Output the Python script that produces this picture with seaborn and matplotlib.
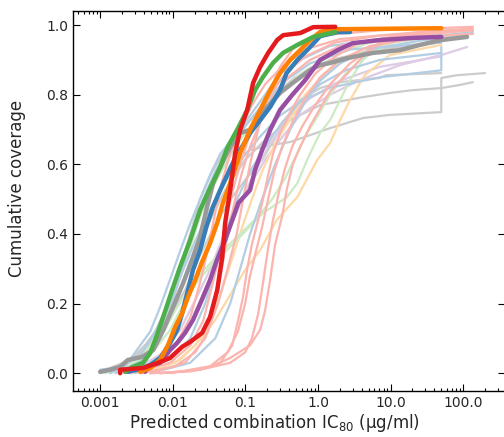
import matplotlib
matplotlib.use('Agg')
import matplotlib.pyplot as plt
import seaborn as sns
import pandas as pd

# bold curves (predicted combination IC80, cumulative coverage)
red_x = [0.00188, 0.00188, 0.0039, 0.0063, 0.0092, 0.0135, 0.0174, 0.0254, 0.0327, 0.041, 0.048,
         0.0527, 0.0618, 0.0724, 0.0848, 0.106, 0.128, 0.16, 0.206, 0.274, 0.332, 0.569, 0.71, 0.86, 1.73]
red_y = [0.0, 0.01, 0.015, 0.03, 0.044, 0.076, 0.09, 0.116, 0.162, 0.239, 0.334,
         0.432, 0.526, 0.633, 0.699, 0.756, 0.834, 0.88, 0.92, 0.957, 0.971, 0.977, 0.986, 0.994, 0.995]

green_x = [0.00221, 0.0028, 0.0039, 0.00489, 0.00573, 0.0074, 0.0098, 0.0126, 0.0174, 0.0238, 0.0327,
           0.045, 0.057, 0.077, 0.106, 0.136, 0.175, 0.24, 0.33, 0.52, 0.86, 1.73]
green_y = [0.004, 0.018, 0.03, 0.058, 0.096, 0.162, 0.239, 0.305, 0.383, 0.469, 0.532,
           0.592, 0.65, 0.699, 0.756, 0.813, 0.851, 0.891, 0.92, 0.943, 0.966, 0.98]

blue_x = [0.0024, 0.00356, 0.00489, 0.0067, 0.0086, 0.0115, 0.0135, 0.0162, 0.019, 0.0238, 0.029,
          0.0358, 0.045, 0.058, 0.075, 0.093, 0.116, 0.16, 0.22, 0.30, 0.37, 0.52, 0.71, 1.07, 1.87, 2.77]
blue_y = [0.004, 0.012, 0.024, 0.044, 0.076, 0.124, 0.173, 0.239, 0.297, 0.354, 0.42,
          0.478, 0.526, 0.575, 0.625, 0.655, 0.69, 0.727, 0.765, 0.813, 0.862, 0.9, 0.928, 0.968, 0.98, 0.98]

orange_x = [0.00356, 0.00489, 0.0067, 0.0086, 0.0108, 0.0135, 0.0162, 0.0204, 0.025, 0.0327, 0.041,
            0.049, 0.057, 0.077, 0.0848, 0.116, 0.16, 0.22, 0.30, 0.414, 0.569, 0.78, 1.07, 1.6, 50.0]
orange_y = [0.004, 0.015, 0.038, 0.081, 0.133, 0.173, 0.219, 0.268, 0.317, 0.374, 0.432,
            0.489, 0.526, 0.604, 0.633, 0.699, 0.756, 0.813, 0.862, 0.9, 0.928, 0.957, 0.98, 0.988, 0.991]

purple_x = [0.00417, 0.0046, 0.0067, 0.0092, 0.0115, 0.0148, 0.019, 0.025, 0.0327, 0.0405, 0.0527,
            0.066, 0.08, 0.116, 0.136, 0.17, 0.22, 0.30, 0.44, 0.667, 1.07, 1.87, 3.0, 7.1, 20.0, 50.0]
purple_y = [0.004, 0.018, 0.03, 0.067, 0.087, 0.116, 0.153, 0.21, 0.268, 0.325, 0.383,
            0.44, 0.489, 0.526, 0.584, 0.641, 0.699, 0.756, 0.799, 0.842, 0.9, 0.928, 0.948, 0.957, 0.963, 0.966]

gray_x = [0.001, 0.00137, 0.00188, 0.0024, 0.0038, 0.0054, 0.0074, 0.0101, 0.0139, 0.019, 0.0238,
          0.029, 0.036, 0.045, 0.0618, 0.0848, 0.116, 0.148, 0.20, 0.30, 0.45, 0.78, 1.07, 1.47, 2.52,
          5.7, 13.5, 25.4, 50.0, 113.0]
gray_y = [0.004, 0.01, 0.018, 0.038, 0.047, 0.067, 0.124, 0.19, 0.259, 0.334, 0.392,
          0.469, 0.546, 0.592, 0.65, 0.69, 0.699, 0.727, 0.765, 0.805, 0.834, 0.871, 0.885, 0.891, 0.905,
          0.92, 0.928, 0.943, 0.957, 0.966]

# faint curves
pink1_x = [0.0049, 0.0174, 0.0327, 0.0618, 0.116, 0.16, 0.187, 0.22, 0.257, 0.32, 0.374, 0.45, 0.569,
           0.78, 1.07, 1.47, 2.52, 4.17, 7.1, 12.3, 25.4, 136.0]
pink1_y = [0.0, 0.005, 0.018, 0.044, 0.08, 0.125, 0.18, 0.27, 0.37, 0.45, 0.53, 0.6, 0.65,
           0.71, 0.76, 0.81, 0.86, 0.91, 0.95, 0.97, 0.98, 0.99]
pink2_x = [0.0067, 0.0238, 0.045, 0.066, 0.079, 0.093, 0.106, 0.123, 0.15, 0.175, 0.206, 0.24, 0.30,
           0.414, 0.569, 0.915, 1.73, 3.8, 13.5, 65.0]
pink2_y = [0.0, 0.01, 0.03, 0.08, 0.15, 0.22, 0.3, 0.37, 0.44, 0.5, 0.57, 0.63, 0.69,
           0.75, 0.8, 0.86, 0.91, 0.95, 0.97, 0.98]
pink3_x = [0.0092, 0.0327, 0.057, 0.079, 0.0993, 0.116, 0.14, 0.17, 0.206, 0.25, 0.32, 0.44, 0.667,
           1.07, 2.02, 5.2, 25.4, 136.0]
pink3_y = [0.0, 0.02, 0.06, 0.12, 0.2, 0.28, 0.35, 0.42, 0.5, 0.58, 0.65, 0.72, 0.79,
           0.85, 0.9, 0.94, 0.965, 0.975]
pink4_x = [0.00356, 0.0108, 0.0204, 0.0307, 0.0384, 0.0475, 0.057, 0.0724, 0.0907, 0.116, 0.16, 0.234,
           0.39, 0.78, 2.02, 13.5, 50.0]
pink4_y = [0.0, 0.02, 0.06, 0.12, 0.2, 0.3, 0.4, 0.5, 0.58, 0.65, 0.72, 0.79,
           0.85, 0.9, 0.94, 0.97, 0.98]
pink5_x = [0.00259, 0.0092, 0.0174, 0.0262, 0.0348, 0.045, 0.0555, 0.068, 0.0848, 0.109, 0.148, 0.22,
           0.353, 0.667, 1.73, 7.1, 136.0]
pink5_y = [0.0, 0.03, 0.08, 0.15, 0.25, 0.35, 0.45, 0.53, 0.6, 0.67, 0.74, 0.8,
           0.86, 0.91, 0.95, 0.97, 0.985]
pink6_x = [0.0067, 0.0238, 0.0618, 0.0993, 0.123, 0.15, 0.175, 0.206, 0.24, 0.29, 0.353, 0.44, 0.61,
           0.915, 1.47, 2.77, 6.1, 18.5, 136.0]
pink6_y = [0.0, 0.01, 0.03, 0.06, 0.1, 0.17, 0.26, 0.36, 0.44, 0.52, 0.59, 0.65, 0.71,
           0.77, 0.83, 0.89, 0.94, 0.97, 0.985]
pink7_x = [0.00188, 0.00573, 0.0108, 0.0174, 0.0238, 0.0307, 0.0384, 0.0475, 0.0618, 0.0848, 0.123,
           0.187, 0.32, 0.667, 2.02, 25.4]
pink7_y = [0.0, 0.03, 0.08, 0.16, 0.26, 0.36, 0.46, 0.55, 0.63, 0.7, 0.77,
           0.83, 0.88, 0.93, 0.96, 0.98]
pink8_x = [0.0049, 0.0148, 0.0279, 0.042, 0.057, 0.076, 0.093, 0.116, 0.15, 0.206, 0.30, 0.485,
           1.07, 7.1, 136.0]
pink8_y = [0.0, 0.03, 0.1, 0.2, 0.3, 0.4, 0.5, 0.6, 0.7, 0.8, 0.88, 0.94,
           0.97, 0.985, 0.995]

lblue1_x = [0.001, 0.00221, 0.00356, 0.0049, 0.0067, 0.0092, 0.0126, 0.0174, 0.0238, 0.0327, 0.045,
            0.0724, 0.116, 0.187, 0.30, 0.569, 1.47, 7.1, 50.0, 136.0]
lblue1_y = [0.01, 0.02, 0.08, 0.12, 0.19, 0.27, 0.35, 0.43, 0.5, 0.57, 0.63,
            0.68, 0.74, 0.8, 0.86, 0.9, 0.94, 0.96, 0.97, 0.98]
lblue2_x = [0.00137, 0.00356, 0.00573, 0.0092, 0.0135, 0.0204, 0.0327, 0.0527, 0.0848, 0.16, 0.30,
            0.569, 1.47, 7.1, 50.0, 50.0]
lblue2_y = [0.0, 0.05, 0.12, 0.2, 0.29, 0.38, 0.47, 0.55, 0.61, 0.68, 0.74,
            0.78, 0.82, 0.85, 0.87, 0.937]
lblue3_x = [0.0049, 0.0174, 0.0384, 0.0618, 0.0848, 0.116, 0.17, 0.257, 0.414, 0.667, 1.07, 2.02,
            5.2, 25.4, 136.0]
lblue3_y = [0.0, 0.03, 0.1, 0.2, 0.3, 0.4, 0.5, 0.6, 0.7, 0.78, 0.84, 0.89,
            0.93, 0.955, 0.975]
lblue4_x = [0.00161, 0.00417, 0.0067, 0.0098, 0.0135, 0.0184, 0.0262, 0.0384, 0.0618, 0.109, 0.187,
            0.353, 0.78, 2.77, 50.0]
lblue4_y = [0.0, 0.04, 0.1, 0.2, 0.3, 0.4, 0.5, 0.58, 0.65, 0.72, 0.78,
            0.84, 0.89, 0.93, 0.95]
lblue5_x = [0.00303, 0.0092, 0.0174, 0.0279, 0.0384, 0.0527, 0.077, 0.116, 0.187, 0.32, 0.569,
            1.07, 2.38, 7.1, 50.0]
lblue5_y = [0.0, 0.04, 0.1, 0.2, 0.3, 0.4, 0.5, 0.58, 0.65, 0.72, 0.78,
            0.83, 0.87, 0.9, 0.92]

lgreen1_x = [0.00188, 0.0049, 0.0092, 0.0148, 0.0238, 0.0384, 0.0618, 0.175, 0.374, 0.52, 0.71, 0.86,
             1.07, 1.47, 2.02, 2.77, 4.17, 7.1, 13.5, 50.0]
lgreen1_y = [0.004, 0.053, 0.124, 0.21, 0.274, 0.32, 0.363, 0.46, 0.506, 0.546, 0.613, 0.65,
             0.69, 0.727, 0.785, 0.842, 0.9, 0.943, 0.971, 0.986]
lgreen2_x = [0.00137, 0.00356, 0.0067, 0.0108, 0.0174, 0.0279, 0.0475, 0.0848, 0.15, 0.234, 0.353,
             0.485, 0.667, 1.0, 1.47, 2.38, 4.4, 11.1, 50.0]
lgreen2_y = [0.0, 0.04, 0.1, 0.18, 0.25, 0.3, 0.35, 0.4, 0.45, 0.5, 0.56,
             0.62, 0.68, 0.74, 0.8, 0.86, 0.91, 0.95, 0.97]
lgreen3_x = [0.00117, 0.00303, 0.0049, 0.00785, 0.0118, 0.0174, 0.0238, 0.0348, 0.0527, 0.0848, 0.15,
             0.28, 0.569, 1.47, 5.2, 50.0]
lgreen3_y = [0.0, 0.03, 0.08, 0.16, 0.26, 0.36, 0.45, 0.53, 0.6, 0.67, 0.74,
             0.8, 0.86, 0.91, 0.95, 0.975]

lorange1_x = [0.0049, 0.0126, 0.0238, 0.0384, 0.0618, 0.0993, 0.16, 0.27, 0.52, 0.98, 1.47, 2.02,
              2.77, 4.4, 9.8, 50.0]
lorange1_y = [0.004, 0.038, 0.096, 0.153, 0.225, 0.297, 0.354, 0.44, 0.506, 0.613, 0.661, 0.727,
              0.785, 0.856, 0.914, 0.943]
lorange2_x = [0.00356, 0.0108, 0.0204, 0.0327, 0.0475, 0.066, 0.0907, 0.123, 0.17, 0.257, 0.414,
              0.667, 1.26, 2.77, 9.8, 50.0]
lorange2_y = [0.0, 0.03, 0.08, 0.15, 0.24, 0.33, 0.42, 0.5, 0.58, 0.66, 0.73,
              0.8, 0.86, 0.91, 0.95, 0.97]

lpurple1_x = [0.00259, 0.0067, 0.0126, 0.0204, 0.0327, 0.0475, 0.0724, 0.116, 0.187, 0.30, 0.569,
              1.47, 3.8, 13.5, 50.0, 113.0]
lpurple1_y = [0.004, 0.053, 0.124, 0.21, 0.297, 0.383, 0.469, 0.541, 0.613, 0.67, 0.742,
              0.8, 0.842, 0.885, 0.914, 0.937]
lpurple2_x = [0.00221, 0.0067, 0.0135, 0.0224, 0.0327, 0.045, 0.0618, 0.0907, 0.136, 0.22, 0.39,
              0.78, 2.02, 7.1, 50.0]
lpurple2_y = [0.0, 0.04, 0.1, 0.18, 0.26, 0.34, 0.42, 0.5, 0.58, 0.66, 0.73,
              0.79, 0.84, 0.88, 0.91]

lgray1_x = [0.001, 0.00259, 0.0067, 0.0126, 0.0238, 0.0384, 0.0618, 0.116, 0.22, 0.414, 0.78, 1.47,
            4.17, 9.8, 50.0, 50.0, 82.0, 200.0]
lgray1_y = [0.004, 0.038, 0.124, 0.239, 0.383, 0.498, 0.598, 0.641, 0.655, 0.664, 0.684, 0.704,
            0.733, 0.742, 0.75, 0.848, 0.856, 0.862]
lgray2_x = [0.00117, 0.00303, 0.00785, 0.0148, 0.0279, 0.0527, 0.0993, 0.187, 0.414, 1.07, 4.17,
            9.8, 20.0, 50.0, 90.0, 136.0]
lgray2_y = [0.004, 0.044, 0.153, 0.268, 0.411, 0.526, 0.613, 0.67, 0.727, 0.77, 0.793,
            0.805, 0.813, 0.819, 0.828, 0.836]
lgray3_x = [0.00137, 0.00356, 0.00785, 0.0148, 0.0238, 0.0384, 0.0618, 0.0993, 0.17, 0.30, 0.569,
            1.07, 2.02, 7.1, 8.6, 50.0]
lgray3_y = [0.004, 0.053, 0.139, 0.239, 0.339, 0.426, 0.498, 0.555, 0.613, 0.699, 0.785,
            0.819, 0.836, 0.848, 0.856, 0.862]
lgray4_x = [0.001, 0.00188, 0.00356, 0.00573, 0.0086, 0.0126, 0.0174, 0.0238, 0.0348, 0.057, 0.109,
            0.22, 0.485, 1.47, 7.1, 50.0]
lgray4_y = [0.0, 0.02, 0.06, 0.12, 0.2, 0.3, 0.4, 0.5, 0.58, 0.65, 0.72,
            0.79, 0.85, 0.9, 0.93, 0.95]

x_ticks = [0.001, 0.01, 0.1, 1.0, 10.0, 100.0]
x_tick_labels = ['0.001', '0.01', '0.1', '1.0', '10.0', '100.0']
y_ticks = [0.0, 0.2, 0.4, 0.6, 0.8, 1.0]
y_tick_labels = ['0.0', '0.2', '0.4', '0.6', '0.8', '1.0']

PINK, LBLUE, LGREEN, LPURPLE, LORANGE, LGRAY = '#fbb4ae', '#b3cde3', '#ccebc5', '#decbe4', '#fed9a6', '#cccccc'

faint = [
    (lgray1_x, lgray1_y, LGRAY), (lgray2_x, lgray2_y, LGRAY), (lgray3_x, lgray3_y, LGRAY),
    (lgray4_x, lgray4_y, LGRAY),
    (lpurple1_x, lpurple1_y, LPURPLE), (lpurple2_x, lpurple2_y, LPURPLE),
    (lorange1_x, lorange1_y, LORANGE), (lorange2_x, lorange2_y, LORANGE),
    (lgreen1_x, lgreen1_y, LGREEN), (lgreen2_x, lgreen2_y, LGREEN), (lgreen3_x, lgreen3_y, LGREEN),
    (lblue1_x, lblue1_y, LBLUE), (lblue2_x, lblue2_y, LBLUE), (lblue3_x, lblue3_y, LBLUE),
    (lblue4_x, lblue4_y, LBLUE), (lblue5_x, lblue5_y, LBLUE),
    (pink1_x, pink1_y, PINK), (pink2_x, pink2_y, PINK), (pink3_x, pink3_y, PINK),
    (pink4_x, pink4_y, PINK), (pink5_x, pink5_y, PINK), (pink6_x, pink6_y, PINK),
    (pink7_x, pink7_y, PINK), (pink8_x, pink8_y, PINK),
]
bold = [
    (gray_x, gray_y, '#999999'), (purple_x, purple_y, '#984ea3'), (blue_x, blue_y, '#377eb8'),
    (orange_x, orange_y, '#ff7f00'), (green_x, green_y, '#4daf4a'), (red_x, red_y, '#e41a1c'),
]

if __name__ == "__main__":
    sns.set_style('ticks', {'xtick.direction': 'in', 'ytick.direction': 'in'})
    plt.rcParams['font.family'] = ['DejaVu Sans']
    fig = plt.figure(figsize=(5.04, 4.37), dpi=100)
    ax = fig.add_axes([0.1448, 0.1053, 0.857, 0.870])
    ax.set_xscale('log')

    for xs, ys, c in faint:
        df = pd.DataFrame({'x': xs, 'y': ys})
        sns.lineplot(data=df, x='x', y='y', sort=False, estimator=None, color=c, linewidth=1.6, ax=ax)
    for xs, ys, c in bold:
        df = pd.DataFrame({'x': xs, 'y': ys})
        sns.lineplot(data=df, x='x', y='y', sort=False, estimator=None, color=c, linewidth=3.2, ax=ax)

    ax.set_xlim(4.22e-4, 376)
    ax.set_ylim(-0.051, 1.041)
    ax.set_xticks(x_ticks)
    ax.set_xticklabels(x_tick_labels)
    ax.set_yticks(y_ticks)
    ax.set_yticklabels(y_tick_labels)
    ax.tick_params(which='both', top=True, right=True, direction='in', labelsize=10, color='black')
    ax.tick_params(which='major', length=5, width=0.8)
    ax.tick_params(which='minor', length=2.5, width=0.8)
    for s in ax.spines.values():
        s.set_color('black')
        s.set_linewidth(1.0)
    ax.set_xlabel(r'Predicted combination IC$_{80}$ (μg/ml)', fontsize=12)
    ax.set_ylabel('Cumulative coverage', fontsize=12)
    ax.xaxis.set_label_coords(0.466, -0.055)
    ax.yaxis.set_label_coords(-0.108, 0.534)
    plt.savefig('out.png', dpi=100)
